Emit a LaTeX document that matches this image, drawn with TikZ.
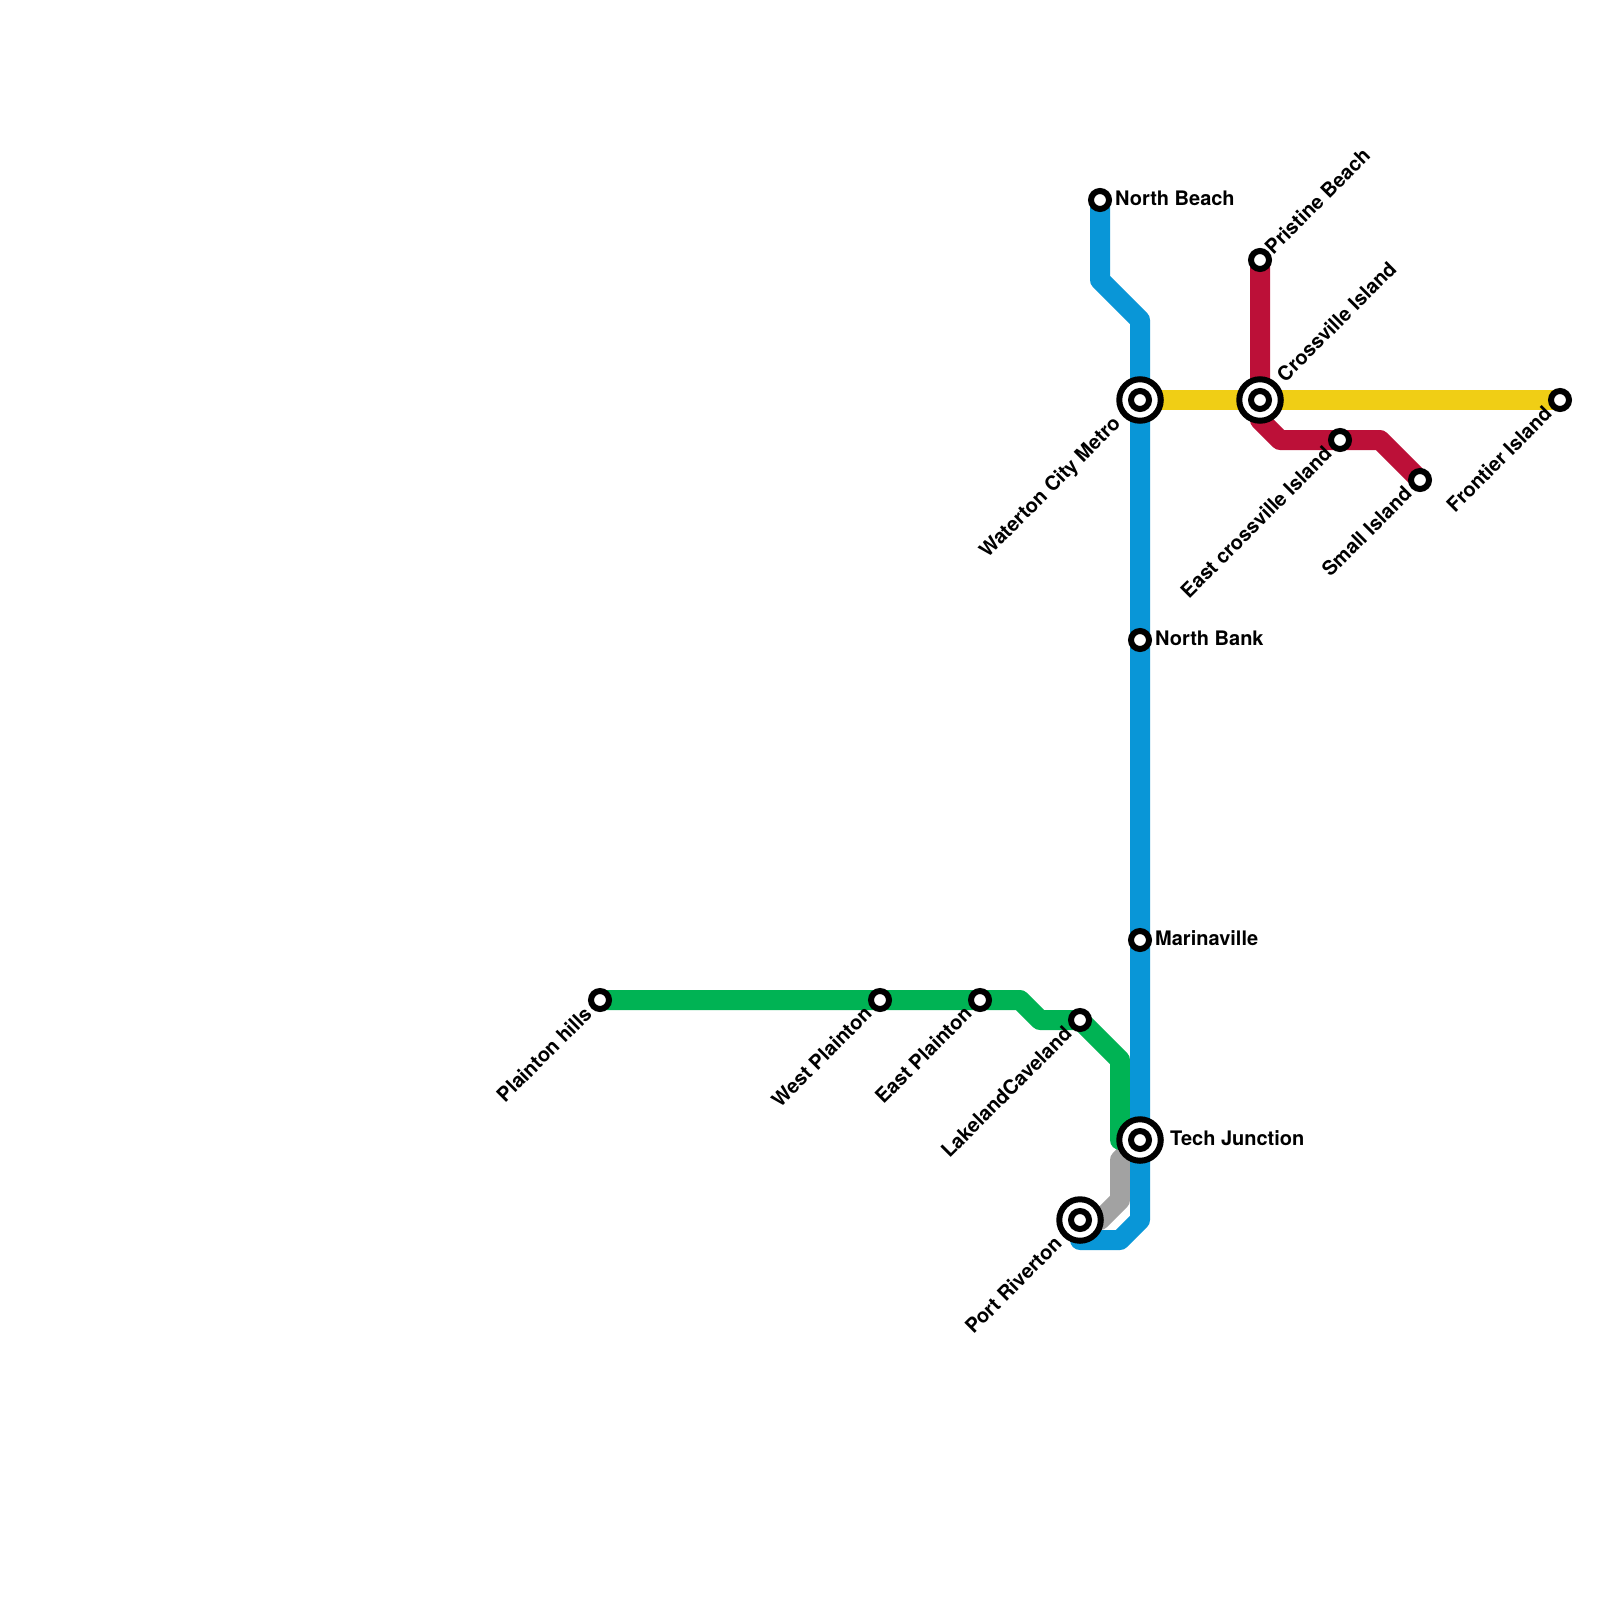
\documentclass[tikz,border=0pt]{standalone}
\usepackage{fontspec}
\setmainfont{TeX Gyre Heros}
\begin{document}
\begin{tikzpicture}[x=1pt,y=-1pt,
  metro/.style={line width=20pt,line join=round,line cap=round},
  stn/.style={circle,draw=black,fill=white,line width=6pt,minimum size=18pt,inner sep=0pt},
  hubouter/.style={circle,draw=black,fill=white,line width=6pt,minimum size=41.5pt,inner sep=0pt},
  lab/.style={font=\fontsize{20}{24}\selectfont\bfseries,inner sep=0pt,text=black},
  up/.style={lab,anchor=west,rotate=45},
  dn/.style={lab,anchor=east,rotate=45},
  rt/.style={lab,anchor=west}]
\definecolor{cblue}{RGB}{9,150,215}
\definecolor{cgreen}{RGB}{0,179,84}
\definecolor{cred}{RGB}{188,16,56}
\definecolor{cyellow}{RGB}{240,206,21}
\definecolor{cgrey}{RGB}{162,162,162}
\useasboundingbox (0,0) rectangle (1600,1600);
\fill[white] (0,0) rectangle (1600,1600);
% bends
\coordinate (b1) at (1100,280); \coordinate (b2) at (1140,320);
\coordinate (b3) at (1140,1220); \coordinate (b4) at (1120,1240); \coordinate (b5) at (1080,1240);
\coordinate (g1) at (1020,1000); \coordinate (g2) at (1040,1020); \coordinate (g3) at (1120,1060); \coordinate (g4) at (1120,1140);
\coordinate (y0) at (1100,1220); \coordinate (y1) at (1120,1200); \coordinate (y2) at (1120,1160);
\coordinate (r1) at (1260,420); \coordinate (r2) at (1280,440); \coordinate (r3) at (1380,440);
% stations
\coordinate (northbeach) at (1100,200); \coordinate (waterton) at (1140,400);
\coordinate (crossville) at (1260,400); \coordinate (pristine) at (1260,260);
\coordinate (eastcross) at (1340,440); \coordinate (small) at (1420,480);
\coordinate (frontier) at (1560,400); \coordinate (northbank) at (1140,640);
\coordinate (marina) at (1140,940); \coordinate (tech) at (1140,1140);
\coordinate (port) at (1080,1220); \coordinate (lake) at (1080,1020);
\coordinate (westp) at (880,1000); \coordinate (eastp) at (980,1000); \coordinate (plainton) at (600,1000);
% lines
\draw[metro,cyellow] (waterton) -- (frontier);
\draw[metro,cgrey] (port) -- (y0) -- (y1) -- (y2) -- (tech);
\draw[metro,cgreen] (plainton) -- (g1) -- (g2) -- (lake) -- (g3) -- (g4) -- (tech);
\draw[metro,cblue] (northbeach) -- (b1) -- (b2) -- (b3) -- (b4) -- (b5) -- (port);
\draw[metro,cred] (pristine) -- (r1) -- (r2) -- (r3) -- (small);
% stations
\foreach \p/\n in {northbeach/a,pristine/b,eastcross/c,small/d,frontier/e,northbank/f,marina/g,lake/h,westp/i,eastp/j,plainton/k}
  \node[stn] (st\n) at (\p) {};
\foreach \p/\n in {waterton/a,crossville/b,tech/c,port/d}{
  \node[hubouter] (hub\n) at (\p) {};
  \node[stn] (hubin\n) at (\p) {};
}
% labels
\node[rt] (l1) at (1115,198) {North Beach};
\node[up] (l2) at (1268,250) {Pristine Beach};
\node[up] (l3) at (1280,378) {Crossville Island};
\node[dn] (l4) at (1118,421) {Waterton City Metro};
\node[dn] (l5) at (1328,450) {East crossville Island};
\node[dn] (l6) at (1408,490) {Small Island};
\node[dn] (l7) at (1548,410) {Frontier Island};
\node[rt] (l8) at (1155,638) {North Bank};
\node[rt] (l9) at (1155,938) {Marinaville};
\node[rt] (l10) at (1170,1138) {Tech Junction};
\node[dn] (l11) at (1068,1030) {LakelandCaveland};
\node[dn] (l12) at (1058,1240) {Port Riverton};
\node[dn] (l13) at (868,1010) {West Plainton};
\node[dn] (l14) at (968,1010) {East Plainton};
\node[dn] (l15) at (588,1010) {Plainton hills};
\end{tikzpicture}
\end{document}
